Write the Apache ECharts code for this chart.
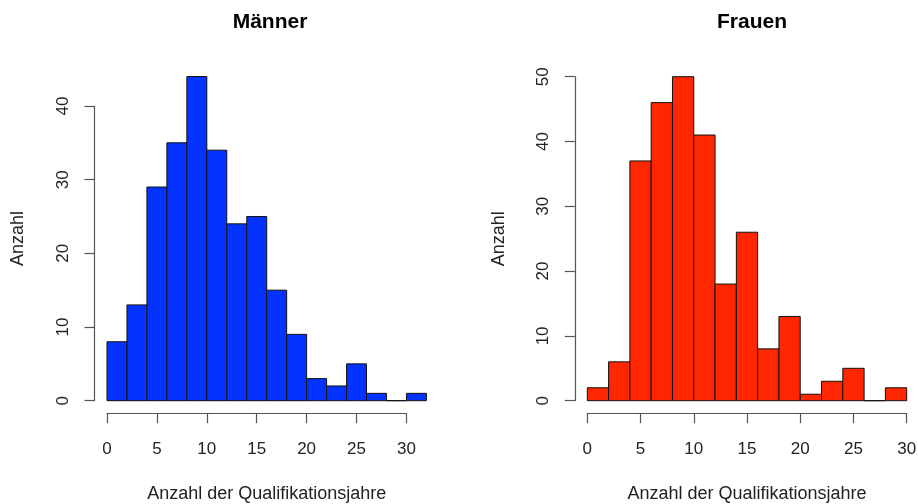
<!DOCTYPE html>
<html>
<head>
<meta charset="utf-8">
<script src="https://cdn.jsdelivr.net/npm/echarts@6/dist/echarts.min.js"></script>
<style>
  html, body { margin: 0; padding: 0; background: #fff; }
  #chart { width: 918px; height: 504px; }
</style>
</head>
<body>
<div id="chart"></div>
<script>
// Histogram bin edges (years of qualification) and counts per bin
const maennerBreaks = [0, 2, 4, 6, 8, 10, 12, 14, 16, 18, 20, 22, 24, 26, 28, 30, 32];
const maennerCounts = [8, 13, 29, 35, 44, 34, 24, 25, 15, 9, 3, 2, 5, 1, 0, 1];

const frauenBreaks = [0, 2, 4, 6, 8, 10, 12, 14, 16, 18, 20, 22, 24, 26, 28, 30];
const frauenCounts = [2, 6, 37, 46, 50, 41, 18, 26, 8, 13, 1, 3, 5, 0, 2];

const titles = ['Männer', 'Frauen'];
const xTitle = 'Anzahl der Qualifikationsjahre';
const yTitle = 'Anzahl';

const FONT = '"Liberation Sans", Arial, Helvetica, sans-serif';
const AXIS_OFFSET = 12.5;

function toBins(breaks, counts) {
  return counts.map((c, i) => [breaks[i], breaks[i + 1], c]);
}

function histSeries(breaks, counts, color, xIdx, yIdx) {
  return {
    type: 'custom',
    xAxisIndex: xIdx,
    yAxisIndex: yIdx,
    encode: { x: [0, 1], y: 2 },
    data: toBins(breaks, counts),
    renderItem: function (params, api) {
      const top = api.coord([api.value(0), api.value(2)]);
      const base = api.coord([api.value(1), 0]);
      return {
        type: 'rect',
        shape: { x: top[0], y: top[1], width: base[0] - top[0], height: base[1] - top[1] },
        style: { fill: color, stroke: '#111', lineWidth: 1 }
      };
    }
  };
}

const axisLineStyle = { color: '#555', width: 1.2 };
const labelStyle = { color: '#222', fontSize: 17, fontFamily: FONT };
const nameStyle = { color: '#222', fontSize: 18, fontFamily: FONT };

// Hidden axes that carry the bars and the axis titles
function plotXAxis(grid, max) {
  return {
    type: 'value', gridIndex: grid, min: 0, max: max,
    axisLine: { show: false, onZero: false }, axisTick: { show: false }, axisLabel: { show: false },
    splitLine: { show: false },
    name: xTitle, nameLocation: 'middle', nameGap: 84, nameTextStyle: nameStyle
  };
}
function plotYAxis(grid, max) {
  return {
    type: 'value', gridIndex: grid, min: 0, max: max,
    axisLine: { show: false, onZero: false }, axisTick: { show: false }, axisLabel: { show: false },
    splitLine: { show: false },
    name: yTitle, nameLocation: 'middle', nameGap: 80, nameTextStyle: nameStyle
  };
}
// Visible axes, drawn detached from the bars
function tickXAxis(grid, max, interval) {
  return {
    type: 'value', gridIndex: grid, min: 0, max: max, interval: interval,
    offset: AXIS_OFFSET,
    axisLine: { show: true, onZero: false, lineStyle: axisLineStyle },
    axisTick: { show: true, length: 10, lineStyle: axisLineStyle },
    axisLabel: Object.assign({ margin: 28, showMinLabel: true, showMaxLabel: true }, labelStyle),
    splitLine: { show: false }
  };
}
function tickYAxis(grid, max, interval) {
  return {
    type: 'value', gridIndex: grid, min: 0, max: max, interval: interval,
    offset: AXIS_OFFSET,
    axisLine: { show: true, onZero: false, lineStyle: axisLineStyle },
    axisTick: { show: true, length: 10, lineStyle: axisLineStyle },
    axisLabel: Object.assign({ margin: 23, rotate: 90, showMinLabel: true, showMaxLabel: true }, labelStyle),
    splitLine: { show: false }
  };
}

const chart = echarts.init(document.getElementById('chart'), null, { renderer: 'canvas' });

chart.setOption({
  backgroundColor: '#ffffff',
  animation: false,
  title: [
    { text: titles[0], left: 265, top: 7, textAlign: 'center',
      textStyle: { fontSize: 21, fontWeight: 'bold', color: '#000', fontFamily: FONT } },
    { text: titles[1], left: 747, top: 7, textAlign: 'center',
      textStyle: { fontSize: 21, fontWeight: 'bold', color: '#000', fontFamily: FONT } }
  ],
  grid: [
    // Männer: bar area (0..32 x 0..44)
    { left: 107, top: 76.5, width: 319.4, height: 324.2, containLabel: false, outerBoundsMode: 'none' },
    // Männer: axis extent (0..30 x 0..40)
    { left: 107, top: 106, width: 299.4, height: 294.7, containLabel: false, outerBoundsMode: 'none' },
    // Frauen: bar area and axes (0..30 x 0..50)
    { left: 587.3, top: 76.7, width: 319.4, height: 324, containLabel: false, outerBoundsMode: 'none' }
  ],
  xAxis: [
    plotXAxis(0, 32),
    tickXAxis(1, 30, 5),
    Object.assign(tickXAxis(2, 30, 5), {
      name: xTitle, nameLocation: 'middle', nameGap: 84 - AXIS_OFFSET, nameTextStyle: nameStyle
    })
  ],
  yAxis: [
    plotYAxis(0, 44),
    tickYAxis(1, 40, 10),
    Object.assign(tickYAxis(2, 50, 10), {
      name: yTitle, nameLocation: 'middle', nameGap: 79.5 - AXIS_OFFSET, nameTextStyle: nameStyle
    })
  ],
  series: [
    histSeries(maennerBreaks, maennerCounts, '#0433ff', 0, 0),
    histSeries(frauenBreaks, frauenCounts, '#ff2600', 2, 2)
  ]
});
</script>
</body>
</html>
